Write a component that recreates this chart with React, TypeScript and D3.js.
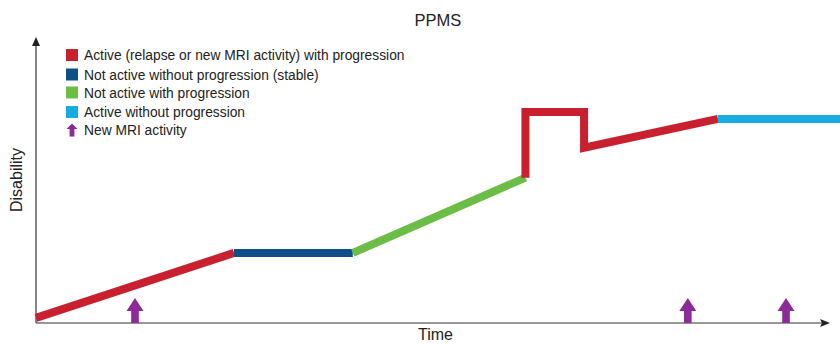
import React from "react";
import * as d3 from "d3";

const W = 840;
const H = 344;

// Trajectory vertices (time, disability) and the status of each segment between them
const timePoints = [0, 25, 40, 61.8, 61.8, 69.2, 69.2, 86.1, 102];
const disabilityPoints = [1.8, 24.6, 24.6, 51, 74, 74, 61.5, 71.6, 71.6];
const segmentStatus = [
  "activeProg",
  "stable",
  "notActiveProg",
  "activeProg",
  "activeProg",
  "activeProg",
  "activeProg",
  "activeNoProg",
];

// New MRI activity events (time)
const mriEvents = [12.5, 82.3, 94.7];

// Legend
const legendKeys = ["activeProg", "stable", "notActiveProg", "activeNoProg", "mri"];
const legendLabels = [
  "Active (relapse or new MRI activity) with progression",
  "Not active without progression (stable)",
  "Not active with progression",
  "Active without progression",
  "New MRI activity",
];
const statusColors: Record<string, string> = {
  activeProg: "#c8202f",
  stable: "#0d4f86",
  notActiveProg: "#6cbd45",
  activeNoProg: "#17ade3",
  mri: "#8b2a98",
};

const FONT = "'Liberation Sans', Arial, sans-serif";

export default function App() {
  const x0 = 36;
  const y0 = 323;
  const x = d3.scaleLinear().domain([0, 100]).range([x0, 828]);
  const y = d3.scaleLinear().domain([0, 100]).range([y0, 38]);

  // group consecutive segments with the same status into one polyline
  const groups: { status: string; pts: [number, number][] }[] = [];
  segmentStatus.forEach((s, i) => {
    const a: [number, number] = [timePoints[i], disabilityPoints[i]];
    const b: [number, number] = [timePoints[i + 1], disabilityPoints[i + 1]];
    const last = groups[groups.length - 1];
    if (last && last.status === s) last.pts.push(b);
    else groups.push({ status: s, pts: [a, b] });
  });
  const line = d3
    .line<[number, number]>()
    .x((d) => x(d[0]))
    .y((d) => y(d[1]));

  const arrowPath = (cx: number) => {
    const top = 298;
    const headBase = 311;
    const hw = 8.5;
    const sw = 3.8;
    return `M${cx},${top} L${cx + hw},${headBase} L${cx + sw},${headBase} L${cx + sw},${y0} L${cx - sw},${y0} L${cx - sw},${headBase} L${cx - hw},${headBase} Z`;
  };
  const smallArrow = (cx: number, cy: number) => {
    const top = cy - 6.5;
    const hb = cy - 1;
    const hw = 5.5;
    const sw = 2.4;
    const bot = cy + 6.5;
    return `M${cx},${top} L${cx + hw},${hb} L${cx + sw},${hb} L${cx + sw},${bot} L${cx - sw},${bot} L${cx - sw},${hb} L${cx - hw},${hb} Z`;
  };

  const legendY = [55, 74.5, 92.5, 112, 130];

  return (
    <svg width={W} height={H} style={{ position: "absolute", left: 0, top: 0, background: "#fff" }}>
      <rect width={W} height={H} fill="#fff" />
      <text x={438} y={26} textAnchor="middle" fontFamily={FONT} fontSize={16.5} fill="#222">
        PPMS
      </text>

      {/* axes */}
      <line x1={x0} y1={y0} x2={x0} y2={44} stroke="#333" strokeWidth={1.2} />
      <path d={`M${x0},37 L${x0 - 4},46 L${x0 + 4},46 Z`} fill="#222" />
      <line x1={x0} y1={y0} x2={822} y2={y0} stroke="#333" strokeWidth={1.2} />
      <path d={`M830,${y0} L820,${y0 - 4} L822,${y0} L820,${y0 + 4} Z`} fill="#222" />

      <text
        transform={`translate(21.5,180) rotate(-90)`}
        textAnchor="middle"
        fontFamily={FONT}
        fontSize={16}
        fill="#222"
      >
        Disability
      </text>
      <text x={435.5} y={340} textAnchor="middle" fontFamily={FONT} fontSize={16} fill="#222">
        Time
      </text>

      {/* trajectory */}
      {groups.map((g, i) => (
        <path
          key={i}
          d={line(g.pts) || ""}
          fill="none"
          stroke={statusColors[g.status]}
          strokeWidth={8}
          strokeLinejoin="miter"
          strokeLinecap="butt"
        />
      ))}

      {/* MRI arrows */}
      {mriEvents.map((t, i) => (
        <path key={i} d={arrowPath(x(t))} fill={statusColors.mri} />
      ))}

      {/* legend */}
      {legendKeys.map((k, i) => (
        <g key={k}>
          {k === "mri" ? (
            <path d={smallArrow(72, legendY[i])} fill={statusColors.mri} />
          ) : (
            <rect x={66} y={legendY[i] - 6} width={12} height={12} fill={statusColors[k]} />
          )}
          <text x={84} y={legendY[i] + 5} fontFamily={FONT} fontSize={13.8} fill="#222">
            {legendLabels[i]}
          </text>
        </g>
      ))}
    </svg>
  );
}
